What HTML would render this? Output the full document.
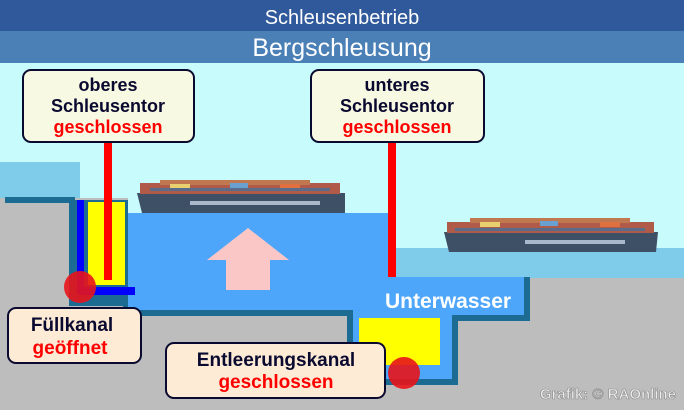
<!DOCTYPE html>
<html><head><meta charset="utf-8"><style>
body{margin:0;width:684px;height:410px;overflow:hidden;background:#c8fcfc;font-family:"Liberation Sans",sans-serif}
</style></head><body>
<svg width="684" height="410" viewBox="0 0 684 410" xmlns="http://www.w3.org/2000/svg" style="position:absolute;left:0;top:0">
<rect x="0" y="0" width="684" height="410" fill="#c8fcfc"/>
<rect x="0" y="0" width="684" height="31" fill="#30599c"/>
<rect x="0" y="31" width="684" height="32" fill="#4a80b6"/>
<text x="342" y="24" text-anchor="middle" fill="#fff" font-size="20">Schleusenbetrieb</text>
<text x="342" y="56" text-anchor="middle" fill="#fff" font-size="25">Bergschleusung</text>
<rect x="0" y="162" width="80" height="40" fill="#7fcbea"/>
<rect x="0" y="198" width="684" height="212" fill="#bdbdbd"/>
<rect x="80" y="162" width="48" height="36" fill="#c8fcfc"/>
<rect x="128" y="198" width="556" height="15" fill="#c8fcfc"/>
<rect x="390" y="213" width="294" height="35" fill="#c8fcfc"/>
<rect x="390" y="248" width="294" height="30" fill="#7fcbea"/>
<path d="M5,200 L72,200 L72,303 L126,303 L126,313 L350,313 L350,382 L455,382 L455,318 L527,318 L527,277" fill="none" stroke="#1b6b93" stroke-width="6"/>
<rect x="75" y="200" width="53" height="100" fill="#1b6b93"/>
<path d="M128,213 L390,213 L390,277 L524,277 L524,315 L452,315 L452,379 L353,379 L353,310 L128,310 Z" fill="#4ea6fb"/>
<rect x="88" y="202" width="37" height="83" fill="#ffff00"/>
<rect x="359" y="318" width="81" height="47" fill="#ffff00"/>
<rect x="77" y="200" width="7" height="94" fill="#0000ff"/>
<rect x="77" y="287" width="58" height="8" fill="#0000ff"/>
<circle cx="80" cy="287" r="16" fill="#e8141a" opacity="0.9"/>
<circle cx="404" cy="373" r="16" fill="#e8141a" opacity="0.9"/>
<rect x="104" y="140" width="8" height="140" fill="#ff0000"/>
<rect x="388" y="140" width="8" height="137" fill="#ff0000"/>
<path d="M207,260 L248,228 L289,260 L270,260 L270,290 L226,290 L226,260 Z" fill="#fbc6c6"/>
<g>
<path d="M137,193 L345,193 L345,213 L142,213 Z" fill="#3d5066"/>
<rect x="140" y="183" width="200" height="11" fill="#b05a4a"/>
<rect x="160" y="180" width="150" height="5" fill="#c07850"/>
<rect x="170" y="184" width="20" height="5" fill="#e8d070"/>
<rect x="230" y="183" width="18" height="5" fill="#6aa0d0"/>
<rect x="280" y="184" width="20" height="5" fill="#e07040"/>
<rect x="150" y="188" width="180" height="3" fill="#5a6c8a"/>
<rect x="190" y="201" width="130" height="4" fill="#aab8cc"/>
</g>
<g>
<path d="M444,232 L658,232 L656,252 L449,252 Z" fill="#3d5066"/>
<rect x="447" y="222" width="207" height="11" fill="#b05a4a"/>
<rect x="470" y="218" width="160" height="5" fill="#c07850"/>
<rect x="480" y="222" width="20" height="5" fill="#e8d070"/>
<rect x="540" y="221" width="18" height="5" fill="#6aa0d0"/>
<rect x="600" y="222" width="20" height="5" fill="#e07040"/>
<rect x="455" y="228" width="190" height="3" fill="#5a6c8a"/>
<rect x="525" y="240" width="100" height="4" fill="#aab8cc"/>
</g>
<text x="385" y="308" fill="#fff" font-size="21" font-weight="bold">Unterwasser</text>
<text x="676" y="399" text-anchor="end" fill="#ececec" font-size="15" font-weight="bold" stroke="#8a8a8a" stroke-width="0.6">Grafik: © RAOnline</text>
<rect x="23" y="70" width="171" height="72" rx="8" fill="#f8f9e2" stroke="#0a0a30" stroke-width="2"/>
<text font-size="18" font-weight="bold" text-anchor="middle"><tspan x="108" y="91" fill="#0a0a30">oberes</tspan><tspan x="108" y="112" fill="#0a0a30">Schleusentor</tspan><tspan x="108" y="133" fill="#ff0000">geschlossen</tspan></text>
<rect x="311" y="70" width="173" height="72" rx="8" fill="#f8f9e2" stroke="#0a0a30" stroke-width="2"/>
<text font-size="18" font-weight="bold" text-anchor="middle"><tspan x="397" y="91" fill="#0a0a30">unteres</tspan><tspan x="397" y="112" fill="#0a0a30">Schleusentor</tspan><tspan x="397" y="133" fill="#ff0000">geschlossen</tspan></text>
<rect x="8" y="308" width="133" height="55" rx="8" fill="#fdebd6" stroke="#0a0a30" stroke-width="2"/>
<text font-size="19" font-weight="bold" text-anchor="middle"><tspan x="72" y="331" fill="#0a0a30">Füllkanal</tspan><tspan x="70" y="354" fill="#ff0000">geöffnet</tspan></text>
<rect x="166" y="343" width="219" height="55" rx="8" fill="#fdebd6" stroke="#0a0a30" stroke-width="2"/>
<text font-size="19" font-weight="bold" text-anchor="middle"><tspan x="276" y="366" fill="#0a0a30">Entleerungskanal</tspan><tspan x="276" y="388" fill="#ff0000">geschlossen</tspan></text>
</svg>
</body></html>
